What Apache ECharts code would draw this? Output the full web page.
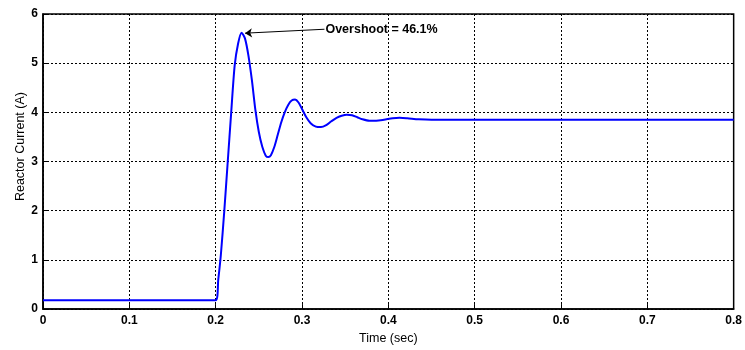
<!DOCTYPE html>
<html>
<head>
    <meta charset="utf-8">
    <title>Reactor Current</title>
    <script src="https://cdn.jsdelivr.net/npm/echarts@6/dist/echarts.min.js"></script>
    <style>
        html, body { margin: 0; padding: 0; background: #fff; }
        #main { width: 745px; height: 350px; }
    </style>
</head>
<body>
<div id="main"></div>
<script type="text/javascript">
    // step response
    var timeSec = [0, 0.2, 0.203, 0.206, 0.21, 0.214, 0.218, 0.222, 0.226, 0.23, 0.234, 0.238, 0.242, 0.246,
        0.25, 0.254, 0.258, 0.261, 0.264, 0.268, 0.272, 0.276, 0.28, 0.284, 0.288, 0.292, 0.296, 0.3,
        0.305, 0.31, 0.316, 0.322, 0.328, 0.334, 0.34, 0.346, 0.352, 0.358, 0.364, 0.37, 0.378, 0.386,
        0.395, 0.405, 0.413, 0.422, 0.435, 0.45, 0.5, 0.6, 0.7, 0.8];
    var currentA = [0.18, 0.18, 0.6, 1.1, 2.0, 3.0, 4.0, 4.95, 5.4, 5.62, 5.5, 5.15, 4.65, 4.05,
        3.6, 3.3, 3.12, 3.09, 3.13, 3.3, 3.55, 3.8, 4.0, 4.15, 4.24, 4.26, 4.2, 4.07,
        3.9, 3.78, 3.71, 3.7, 3.74, 3.82, 3.89, 3.93, 3.95, 3.94, 3.9, 3.86, 3.83, 3.83,
        3.85, 3.88, 3.89, 3.88, 3.86, 3.85, 3.85, 3.85, 3.85, 3.85];
    var xTicks = [0, 0.1, 0.2, 0.3, 0.4, 0.5, 0.6, 0.7, 0.8];
    var yTicks = [0, 1, 2, 3, 4, 5, 6];
    var noteText = 'Overshoot = 46.1%';
    var noteFrom = [0.326, 5.69];
    var noteTo = [0.234, 5.61];

    var pts = [];
    for (var i = 0; i < timeSec.length; i++) {
        pts.push([timeSec[i], currentA[i]]);
    }

    var myChart = echarts.init(document.getElementById('main'));
    var tickFont = {color: '#000', fontFamily: 'Liberation Sans, Arial', fontWeight: 'bold', fontSize: 12};
    var nameFont = {color: '#000', fontFamily: 'Liberation Sans, Arial', fontSize: 12.5};
    myChart.setOption({
        animation: false,
        grid: {left: 43, right: 11, top: 14, bottom: 40, show: true, borderColor: '#000', borderWidth: 1.5},
        xAxis: {
            type: 'value', min: 0, max: 0.8, interval: 0.1,
            name: 'Time (sec)', nameLocation: 'middle', nameGap: 21,
            nameTextStyle: nameFont,
            axisLine: {lineStyle: {color: '#000', width: 1.5}},
            axisTick: {inside: true, length: 5, lineStyle: {color: '#000'}},
            axisLabel: Object.assign({margin: 6, formatter: function (v) {
                return xTicks.indexOf(Math.round(v * 10) / 10) >= 0 ? String(Math.round(v * 10) / 10) : '';
            }}, tickFont),
            splitLine: {show: true, lineStyle: {color: '#000', type: [2, 2], width: 1}}
        },
        yAxis: {
            type: 'value', min: 0, max: 6, interval: 1,
            name: 'Reactor Current (A)', nameLocation: 'middle', nameGap: 16, nameMoveOverlap: false,
            nameTextStyle: Object.assign({padding: [0, 0, 0, 30]}, nameFont),
            axisLine: {show: true, lineStyle: {color: '#000', width: 1.5}},
            axisTick: {show: true, inside: true, length: 5, lineStyle: {color: '#000'}},
            axisLabel: Object.assign({margin: 5, formatter: function (v) {
                return yTicks.indexOf(v) >= 0 ? String(v) : '';
            }}, tickFont),
            splitLine: {show: true, lineStyle: {color: '#000', type: [2, 2], width: 1}}
        },
        series: [{
            type: 'line', data: pts, showSymbol: false, smooth: 0.25,
            lineStyle: {color: '#0000ff', width: 2},
            markLine: {
                silent: true, symbol: ['none', 'arrow'], symbolSize: 7,
                lineStyle: {color: '#000', width: 1, type: 'solid'},
                label: {
                    show: true, position: 'start', distance: 1, formatter: noteText,
                    color: '#000', fontFamily: 'Liberation Sans, Arial', fontWeight: 'bold', fontSize: 12.5
                },
                data: [[{coord: noteFrom}, {coord: noteTo}]]
            }
        }]
    });
</script>
</body>
</html>
